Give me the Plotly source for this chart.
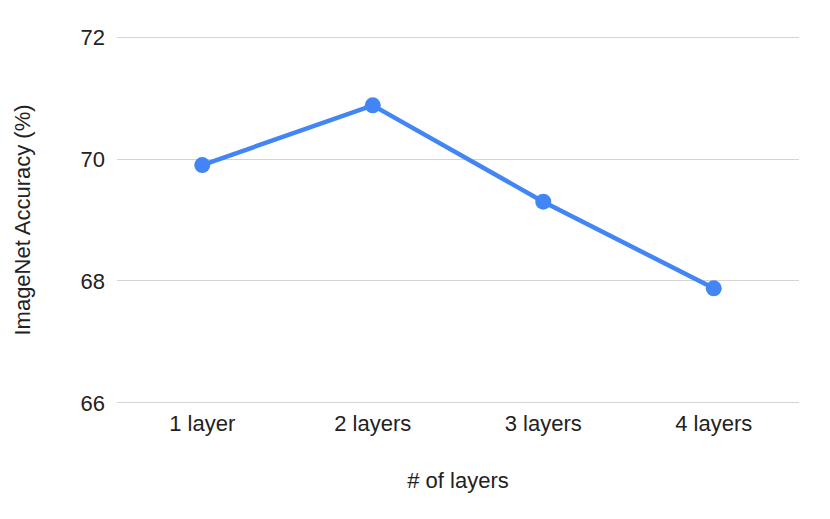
import plotly.graph_objects as go

categories = ["1 layer", "2 layers", "3 layers", "4 layers"]
accuracy = [69.9, 70.88, 69.3, 67.88]
y_ticks = [66, 68, 70, 72]

fig = go.Figure()
fig.add_trace(go.Scatter(
    x=categories, y=accuracy, mode="lines+markers",
    line=dict(color="#4285F4", width=4.5),
    marker=dict(color="#4285F4", size=16),
    showlegend=False,
))
fig.update_layout(
    width=822, height=511,
    margin=dict(l=109, r=31, t=26, b=113),
    paper_bgcolor="white", plot_bgcolor="white",
    font=dict(family="Liberation Sans, Arial, sans-serif", size=22, color="#222222"),
)
fig.update_xaxes(
    title=dict(text="# of layers", font=dict(size=22), standoff=37),
    range=[-0.5, 3.5], automargin=False,
    showgrid=False, showline=False, zeroline=False,
    ticks="", tickfont=dict(size=22, color="#222222"), ticklabelstandoff=2,
)
fig.update_yaxes(
    title=dict(text="ImageNet Accuracy (%)", font=dict(size=22), standoff=43),
    range=[65.95, 72.05], tickvals=y_ticks, automargin=False,
    showgrid=True, gridcolor="#d3d3d3", gridwidth=1.3,
    zeroline=False, showline=False, ticks="",
    tickfont=dict(size=22, color="#222222"), ticklabelstandoff=11,
)
fig.write_html("out.html")
